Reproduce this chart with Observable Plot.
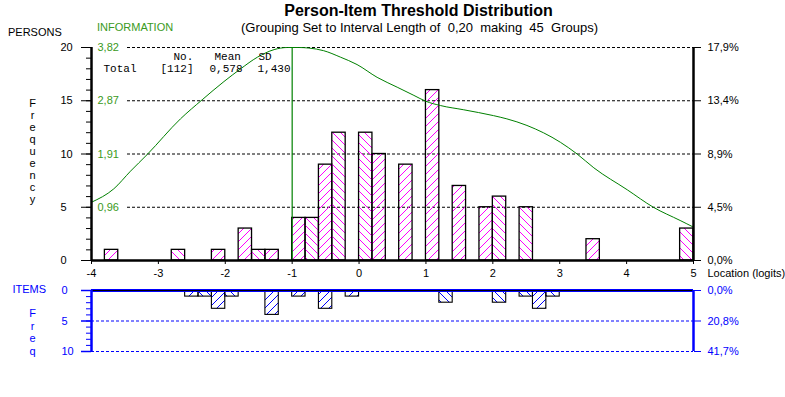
<!DOCTYPE html>
<html>
<head>
<meta charset="utf-8">
<script src="https://cdn.jsdelivr.net/npm/d3@7"></script>
<script src="https://cdn.jsdelivr.net/npm/@observablehq/plot@0.6"></script>
<style>
  html, body { margin: 0; padding: 0; background: #fff; }
  #wrap { position: relative; width: 785px; height: 397px; overflow: hidden; background: #fff; font-family: "Liberation Sans", Arial, sans-serif; }
  .lbl { position: absolute; white-space: pre; line-height: 1; color: #000; }
  #title { left: 0; width: 837px; text-align: center; top: 3px; font-size: 16px; font-weight: bold; }
  #subtitle { left: 0; width: 839px; text-align: center; top: 21px; font-size: 13px; }
  #persons { left: 8px; top: 27px; font-size: 11px; }
  #information { left: 97px; top: 22px; font-size: 11px; color: #3a9a22; }
  #main { position: absolute; left: 0; top: 40px; }
  #items { position: absolute; left: 0; top: 285px; }
</style>
</head>
<body>
<svg width="0" height="0" style="position:absolute">
  <defs>
    <pattern id="pFwdM" patternUnits="userSpaceOnUse" width="8" height="8">
      <path d="M-1,9 L9,-1 M-1,1 L1,-1 M7,9 L9,7" stroke="#ff00ff" stroke-width="1" fill="none"/>
    </pattern>
    <pattern id="pBackM" patternUnits="userSpaceOnUse" width="8" height="8">
      <path d="M-1,-1 L9,9 M7,-1 L9,1 M-1,7 L1,9" stroke="#ff00ff" stroke-width="1" fill="none"/>
    </pattern>
    <pattern id="pFwdB" patternUnits="userSpaceOnUse" width="8" height="8">
      <path d="M-1,9 L9,-1 M-1,1 L1,-1 M7,9 L9,7" stroke="#0000ff" stroke-width="1" fill="none" shape-rendering="crispEdges"/>
    </pattern>
    <pattern id="pBackB" patternUnits="userSpaceOnUse" width="8" height="8">
      <path d="M-1,-1 L9,9 M7,-1 L9,1 M-1,7 L1,9" stroke="#0000ff" stroke-width="1" fill="none" shape-rendering="crispEdges"/>
    </pattern>
  </defs>
</svg>
<div id="wrap">
  <div class="lbl" id="title">Person-Item Threshold Distribution</div>
  <div class="lbl" id="subtitle">(Grouping Set to Interval Length of  0,20  making  45  Groups)</div>
  <div class="lbl" id="persons">PERSONS</div>
  <div class="lbl" id="information">INFORMATION</div>
  <div id="main"></div>
  <div id="items"></div>
</div>
<script>
// ---------------- data ----------------
const binWidth = 0.2;
const personBins   = [-3.8, -2.8, -2.2, -1.8, -1.6, -1.4, -1.0, -0.8, -0.6, -0.4, 0.0, 0.2, 0.6, 1.0, 1.4, 1.8, 2.0, 2.4, 3.4, 4.8];
const personCounts = [1, 1, 1, 3, 1, 1, 4, 4, 9, 12, 12, 10, 9, 16, 7, 5, 6, 5, 2, 3];
const itemBins   = [-2.6, -2.4, -2.2, -2.0, -1.4, -1.0, -0.6, -0.2, 1.2, 2.0, 2.4, 2.6, 2.8];
const itemCounts = [1, 1, 3, 1, 4, 1, 3, 1, 2, 2, 1, 3, 1];
const infoLogits = [-4.0, -3.667, -3.417, -3.168, -2.67, -2.346, -2.02, -1.77, -1.52, -1.27, -1.07, -0.9, -0.75, -0.53, -0.28, -0.03, 0.27, 0.57, 0.82, 1.0, 1.217, 1.565, 2.01, 2.21, 2.51, 3.01, 3.26, 3.51, 4.01, 4.40, 4.80, 5.0];
const infoValues = [1.045, 1.285, 1.602, 1.900, 2.540, 2.882, 3.209, 3.438, 3.646, 3.782, 3.82, 3.82, 3.810, 3.763, 3.648, 3.514, 3.285, 3.108, 2.961, 2.855, 2.779, 2.703, 2.598, 2.540, 2.422, 2.120, 1.910, 1.662, 1.268, 0.955, 0.718, 0.598];
const infoPeak = [-1.0];
const infoMax = 3.82;
const xTicks = [-4, -3, -2, -1, 0, 1, 2, 3, 4, 5];
const xTickLabels = ["-4", "-3", "-2", "-1", "0", "1", "2", "3", "4", "5"];
const personTicks = [0, 5, 10, 15, 20];
const personTickLabels = ["0", "5", "10", "15", "20"];
const personPctLabels = ["0,0%", "4,5%", "8,9%", "13,4%", "17,9%"];
const infoTickLabels = ["0,96", "1,91", "2,87", "3,82"];
const itemTicks = [0, 5, 10];
const itemTickLabels = ["0", "5", "10"];
const itemPctLabels = ["0,0%", "20,8%", "41,7%"];
const statsHeaders = ["No.", "Mean", "SD"];
const statsValues = ["Total", "[112]", "0,578", "1,430"];

// ---------------- tables ----------------
const binIndex = x => Math.round((x + 4) / binWidth);
const persons = personBins.map((x, i) => ({x1: x, x2: x + binWidth, count: personCounts[i], fwd: binIndex(x) % 2 === 1}));
const items = itemBins.map((x, i) => ({x1: x, x2: x + binWidth, count: itemCounts[i], fwd: binIndex(x) % 2 === 1}));
const info = infoLogits.map((x, i) => ({x, info: infoValues[i]}));

const FONT = "'Liberation Sans', Arial, sans-serif";
const MONO = "'Liberation Mono', 'Courier New', monospace";
const GREEN = "#008000";
const GREEN_TXT = "#3a9a22";
const BLUE = "#0000ff";
const W = 785, ML = 91, MR = 92;

// helper: text at page pixel position relative to frame top-left
function at(str, px, py, frameTop, opts = {}) {
  return Plot.text([str], {text: d => d, frameAnchor: "top-left", dx: px - ML, dy: py - frameTop,
    lineAnchor: "bottom", textAnchor: "start", fontSize: 11, fill: "#000", ...opts});
}

// ---------------- main panel ----------------
const mainTop = 7; // frame top within svg (page y 47)
const main = Plot.plot({
  width: W, height: 245,
  marginLeft: ML, marginRight: MR, marginTop: mainTop, marginBottom: 25,
  style: {fontFamily: FONT, fontSize: "11px", background: "transparent", overflow: "visible"},
  x: {domain: [-4, 5]},
  y: {domain: [0, 20]},
  marks: [
    Plot.ruleY([5, 10, 15, 20], {stroke: "#000", strokeDasharray: "3,2", insetLeft: 36}),
    Plot.rect(persons.filter(d => d.fwd), {x1: "x1", x2: "x2", y1: 0, y2: "count", fill: "url(#pFwdM)", stroke: "#000", strokeWidth: 1.3}),
    Plot.rect(persons.filter(d => !d.fwd), {x1: "x1", x2: "x2", y1: 0, y2: "count", fill: "url(#pBackM)", stroke: "#000", strokeWidth: 1.3}),
    Plot.ruleX(infoPeak, {stroke: GREEN, strokeWidth: 1.2}),
    Plot.line(info, {x: "x", y: d => d.info * 20 / infoMax, stroke: GREEN, strokeWidth: 1, curve: "monotone-x"}),
    Plot.ruleX([-4], {stroke: "#000", strokeWidth: 2.5}),
    Plot.ruleX([5], {stroke: "#000", strokeWidth: 2.5}),
    Plot.ruleY([0], {stroke: "#000", strokeWidth: 2.5}),
    Plot.axisY({anchor: "left", ticks: personTicks, tickSize: 10, fill: "none", label: null, stroke: "#000"}),
    Plot.axisY({anchor: "left", ticks: d3.range(0, 21), tickSize: 5, fill: "none", label: null, stroke: "#000"}),
    Plot.axisY({anchor: "right", ticks: personTicks, tickSize: 7, fill: "none", label: null, stroke: "#000"}),
    Plot.axisX({anchor: "bottom", ticks: xTicks, tickSize: 4, fill: "none", label: null, stroke: "#000"}),
    Plot.text(personTicks, {x: -4, y: d => d, text: (d, i) => personTickLabels[i], dx: -31, textAnchor: "start", fontSize: 11, fill: "#000"}),
    Plot.text(personTicks, {x: 5, y: d => d, text: (d, i) => personPctLabels[i], dx: 14, textAnchor: "start", fontSize: 11, fill: "#000"}),
    Plot.text(infoTickLabels, {x: -4, y: (d, i) => (i + 1) * 5, text: d => d, dx: 6, textAnchor: "start", fontSize: 11, fill: GREEN_TXT}),
    Plot.text(xTicks, {x: d => d, y: 0, text: (d, i) => xTickLabels[i], dy: 13, fontSize: 11, fill: "#000"}),
    Plot.text(["Location (logits)"], {x: 5, y: 0, text: d => d, dx: 14, dy: 13, textAnchor: "start", fontSize: 11, fill: "#000"}),
    Plot.text(["F\nr\ne\nq\nu\ne\nn\nc\ny"], {text: d => d, frameAnchor: "top-left", dx: 32 - ML, dy: 98 - 47, lineAnchor: "top", lineHeight: 1.09, textAnchor: "middle", fontSize: 11, fill: "#000"}),
    at(statsHeaders[0], 173, 59, 47, {fontFamily: MONO}),
    at(statsHeaders[1], 214, 59, 47, {fontFamily: MONO}),
    at(statsHeaders[2], 258, 59, 47, {fontFamily: MONO}),
    at(statsValues[0], 103, 71, 47, {fontFamily: MONO}),
    at(statsValues[1], 160, 71, 47, {fontFamily: MONO}),
    at(statsValues[2], 209, 71, 47, {fontFamily: MONO}),
    at(statsValues[3], 257, 71, 47, {fontFamily: MONO})
  ]
});
document.getElementById("main").appendChild(main);

// ---------------- items panel ----------------
const items_plot = Plot.plot({
  width: W, height: 112,
  marginLeft: ML, marginRight: MR, marginTop: 5, marginBottom: 46,
  style: {fontFamily: FONT, fontSize: "11px", background: "transparent", overflow: "visible"},
  x: {domain: [-4, 5], axis: null},
  y: {domain: [0, 10], reverse: true},
  marks: [
    Plot.ruleY([5, 10], {stroke: BLUE, strokeDasharray: "3,2"}),
    Plot.rect(items.filter(d => d.fwd), {x1: "x1", x2: "x2", y1: 0, y2: "count", fill: "url(#pFwdB)", stroke: "#000", strokeWidth: 1.1}),
    Plot.rect(items.filter(d => !d.fwd), {x1: "x1", x2: "x2", y1: 0, y2: "count", fill: "url(#pBackB)", stroke: "#000", strokeWidth: 1.1}),
    Plot.ruleY([0], {stroke: BLUE, strokeWidth: 3}),
    Plot.ruleY([0], {stroke: "#000", strokeWidth: 1.2}),
    Plot.ruleX([-4], {stroke: BLUE, strokeWidth: 2.5}),
    Plot.ruleX([5], {stroke: BLUE, strokeWidth: 2.5}),
    Plot.axisY({anchor: "left", ticks: itemTicks, tickSize: 10, fill: "none", label: null, stroke: BLUE, strokeWidth: 1.5}),
    Plot.axisY({anchor: "left", ticks: d3.range(0, 11), tickSize: 5, fill: "none", label: null, stroke: BLUE}),
    Plot.axisY({anchor: "right", ticks: itemTicks, tickSize: 7, fill: "none", label: null, stroke: BLUE}),
    Plot.text(itemTicks, {x: -4, y: d => d, text: (d, i) => itemTickLabels[i], dx: -30, textAnchor: "start", fontSize: 11, fill: BLUE}),
    Plot.text(itemTicks, {x: 5, y: d => d, text: (d, i) => itemPctLabels[i], dx: 14, textAnchor: "start", fontSize: 11, fill: BLUE}),
    at("ITEMS", 12, 292, 290, {fill: BLUE}),
    Plot.text(["F\nr\ne\nq"], {text: d => d, frameAnchor: "top-left", dx: 32 - ML, dy: 308 - 290, lineAnchor: "top", lineHeight: 1.14, textAnchor: "middle", fontSize: 11, fill: BLUE})
  ]
});
document.getElementById("items").appendChild(items_plot);
</script>
</body>
</html>
